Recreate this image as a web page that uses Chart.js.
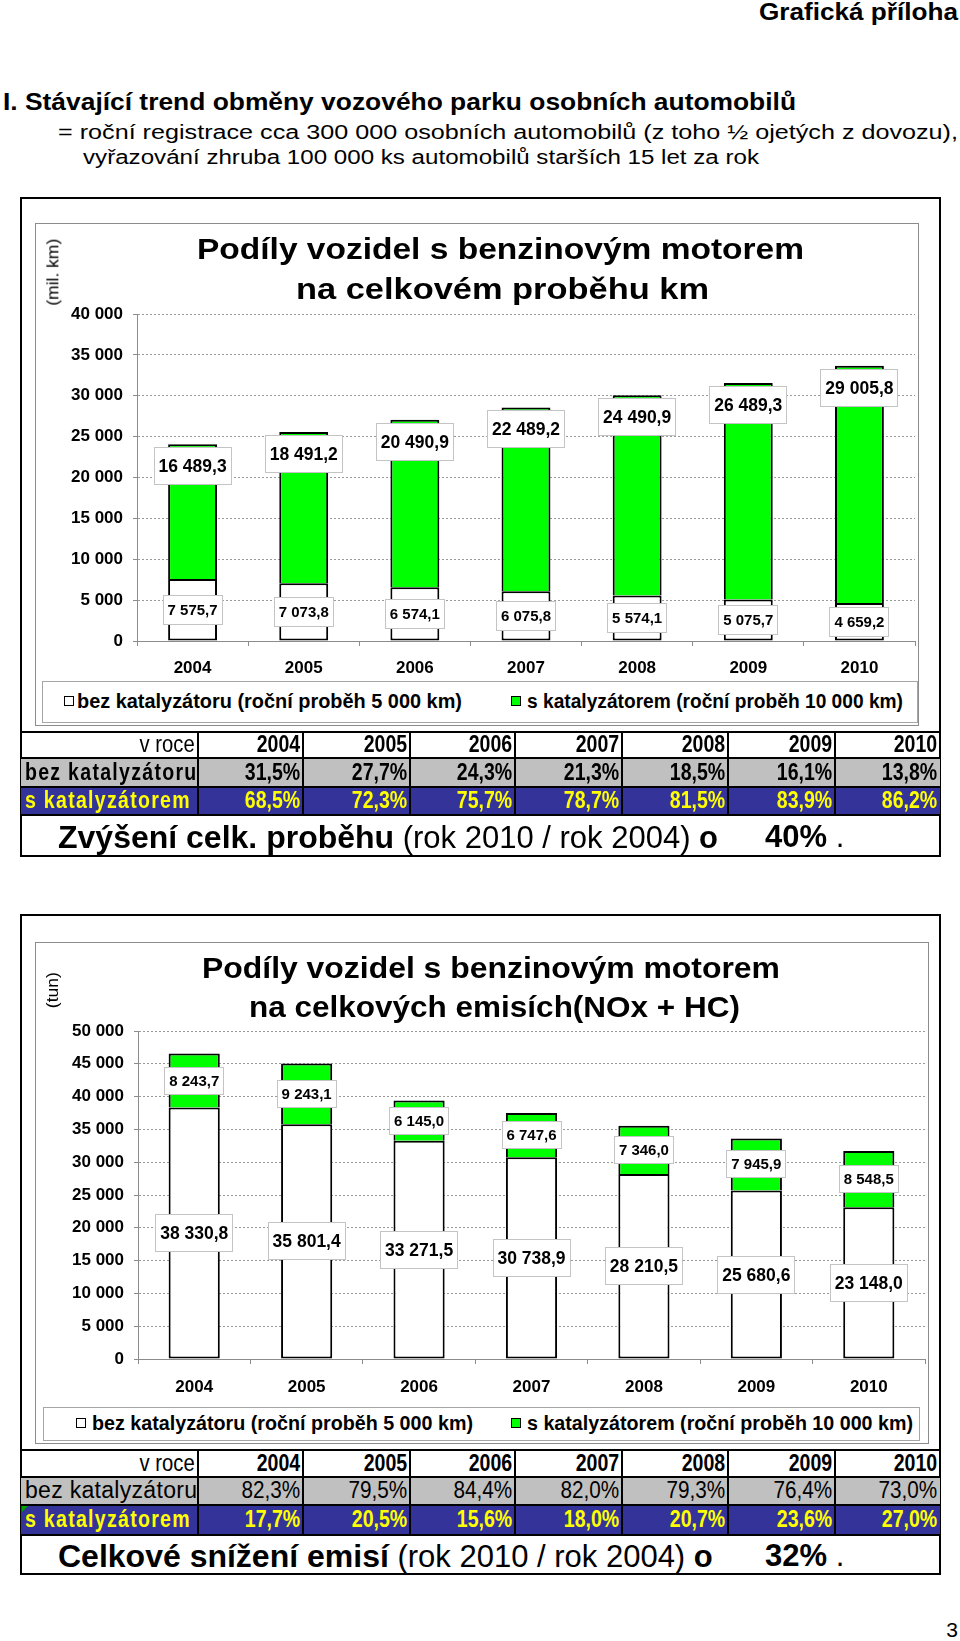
<!DOCTYPE html>
<html>
<head>
<meta charset="utf-8">
<script src="https://cdn.jsdelivr.net/npm/chart.js@4.4.1/dist/chart.umd.min.js"></script>
<style>
  body { margin: 0; width: 960px; height: 1641px; position: relative; overflow: hidden; background: #fff;
         font-family: "Liberation Sans", Arial, sans-serif; color: #000; }
  .frame { position: absolute; border: 2px solid #000; box-sizing: border-box; }
  .cbox { position: absolute; border: 1px solid #8c8c8c; box-sizing: border-box; }
  .lbox { position: absolute; border: 1px solid #a6a6a6; box-sizing: border-box; }
  .sq { position: absolute; width: 10px; height: 10px; border: 1px solid #000; box-sizing: border-box; }
  canvas { position: absolute; }
  .cell { position: absolute; display: flex; align-items: center; justify-content: flex-end; box-sizing: border-box;
          padding: 0 2px 0 3px; overflow: hidden; white-space: nowrap; line-height: 1.2; }
  .cell span { display: inline-block; }
  .ln { position: absolute; background: #000; }
</style>
</head>
<body>

<div class="frame" style="left:20px;top:197px;width:921px;height:660px"></div>
<div class="cbox" style="left:35px;top:223px;width:884px;height:503px"></div>
<div class="lbox" style="left:42px;top:681px;width:876px;height:42px"></div>
<canvas id="km" width="883" height="455" style="left:35px;top:223px"></canvas>

<div class="frame" style="left:20px;top:914px;width:921px;height:661px"></div>
<div class="cbox" style="left:35px;top:942px;width:894px;height:502px"></div>
<div class="lbox" style="left:43px;top:1407px;width:877px;height:34px"></div>
<canvas id="em" width="893" height="465" style="left:35px;top:942px"></canvas>

<script>
// ---- data ----
const years = ['2004', '2005', '2006', '2007', '2008', '2009', '2010'];
const seriesNames = ['bez katalyzátoru (roční proběh 5 000 km)', 's katalyzátorem (roční proběh 10 000 km)'];

// celkový proběh (mil. km)
const kmBez = [7575.7, 7073.8, 6574.1, 6075.8, 5574.1, 5075.7, 4659.2];
const kmKat = [16489.3, 18491.2, 20490.9, 22489.2, 24490.9, 26489.3, 29005.8];
const kmShareBez = ['31,5%', '27,7%', '24,3%', '21,3%', '18,5%', '16,1%', '13,8%'];
const kmShareKat = ['68,5%', '72,3%', '75,7%', '78,7%', '81,5%', '83,9%', '86,2%'];

// emise NOx + HC (tun)
const emBez = [38330.8, 35801.4, 33271.5, 30738.9, 28210.5, 25680.6, 23148.0];
const emKat = [8243.7, 9243.1, 6145.0, 6747.6, 7346.0, 7945.9, 8548.5];
const emShareBez = ['82,3%', '79,5%', '84,4%', '82,0%', '79,3%', '76,4%', '73,0%'];
const emShareKat = ['17,7%', '20,5%', '15,6%', '18,0%', '20,7%', '23,6%', '27,0%'];

const kmMax = 40000;
const emMax = 50000;
const tickStep = 5000;

const fmtInt = v => String(v).replace(/\B(?=(\d{3})+(?!\d))/g, ' ');
const fmtDec = v => { const p = v.toFixed(1).split('.'); return fmtInt(p[0]) + ',' + p[1]; };

Chart.defaults.font.family = '"Liberation Sans", Arial, sans-serif';

// white boxes with the values, like the Excel data labels
const boxLabels = {
  id: 'boxLabels',
  afterDatasetsDraw(chart) {
    const ctx = chart.ctx;
    chart.data.datasets.forEach((ds, i) => {
      const lab = ds.boxLabel;
      chart.getDatasetMeta(i).data.forEach((bar, j) => {
        const cy = lab.anchor === 'end' ? bar.y + 3 + lab.h / 2 : (bar.y + bar.base) / 2;
        const x = Math.round(bar.x - lab.w / 2), y = Math.round(cy - lab.h / 2);
        ctx.save();
        ctx.fillStyle = '#fff';
        ctx.fillRect(x, y, lab.w, lab.h);
        ctx.strokeStyle = '#c4c4c4';
        ctx.lineWidth = 1;
        ctx.strokeRect(x + 0.5, y + 0.5, lab.w - 1, lab.h - 1);
        ctx.font = 'bold ' + lab.size + 'px "Liberation Sans", Arial, sans-serif';
        ctx.fillStyle = '#000';
        ctx.textAlign = 'center';
        ctx.textBaseline = 'middle';
        ctx.fillText(fmtDec(ds.data[j]), bar.x, y + lab.h / 2 + 1);
        ctx.restore();
      });
    });
  }
};

function stackChart(id, bez, kat, max, g) {
  return new Chart(document.getElementById(id), {
    type: 'bar',
    data: {
      labels: years,
      datasets: [
        { label: seriesNames[0], data: bez, backgroundColor: '#ffffff', borderColor: '#000', borderWidth: 2,
          borderSkipped: false, barPercentage: g.bar, categoryPercentage: 1, boxLabel: g.bezLabel },
        { label: seriesNames[1], data: kat, backgroundColor: '#00ff00', borderColor: '#000', borderWidth: 2,
          borderSkipped: 'bottom', barPercentage: g.bar, categoryPercentage: 1, boxLabel: g.katLabel }
      ]
    },
    options: {
      responsive: false,
      animation: false,
      devicePixelRatio: 1,
      layout: { padding: { top: g.top, right: 3, left: 0, bottom: 0 } },
      plugins: { legend: { display: false }, tooltip: { enabled: false }, title: { display: false } },
      scales: {
        x: {
          stacked: true,
          grid: { drawOnChartArea: false, tickLength: 5, color: '#8c8c8c' },
          border: { color: '#8c8c8c' },
          ticks: { color: '#000', font: { size: 17, weight: 'bold' }, padding: g.xPad },
          afterFit: s => { s.height = g.xH; }
        },
        y: {
          stacked: true,
          min: 0,
          max: max,
          ticks: { stepSize: tickStep, color: '#000', font: { size: 17, weight: 'bold' }, padding: 10,
                   callback: v => fmtInt(v) },
          grid: { color: '#9a9a9a', tickColor: '#8c8c8c', tickLength: 4 },
          border: { color: '#8c8c8c', dash: [2, 2] },
          afterFit: s => { s.width = g.yW; }
        }
      }
    },
    plugins: [boxLabels]
  });
}

stackChart('km', kmBez, kmKat, kmMax, {
  top: 91, yW: 102, xH: 37, xPad: 12, bar: 0.44,
  bezLabel: { anchor: 'center', w: 60, h: 30, size: 15 },
  katLabel: { anchor: 'end', w: 78, h: 38, size: 17.5 }
});
stackChart('em', emBez, emKat, emMax, {
  top: 89, yW: 103, xH: 48, xPad: 13, bar: 0.455,
  bezLabel: { anchor: 'center', w: 78, h: 38, size: 17.5 },
  katLabel: { anchor: 'center', w: 60, h: 28, size: 15 }
});

// ---- text placed and stretched to the widths ----
function put(text, o) {
  const el = document.createElement('div');
  el.textContent = text;
  el.style.cssText = 'position:absolute;white-space:nowrap;line-height:1.2;left:0;top:0;transform-origin:0 0;' +
    'font-weight:' + (o.b ? 'bold' : 'normal') + ';font-size:' + o.s + 'px';
  document.body.appendChild(el);
  const nat = el.getBoundingClientRect().width;
  const k = o.w ? o.w / nat : 1;
  const w = nat * k;
  let left = o.x;
  if (o.a === 'r') left = o.x - w;
  if (o.a === 'c') left = o.x - w / 2;
  el.style.left = left + 'px';
  el.style.top = (o.cy - 0.59 * o.s) + 'px';
  el.style.transform = 'scaleX(' + k + ')';
  return el;
}
function putV(text, s, cx, cy, len) {
  const el = document.createElement('div');
  el.textContent = text;
  el.style.cssText = 'position:absolute;white-space:nowrap;line-height:1.2;left:0;top:0;font-size:' + s + 'px';
  document.body.appendChild(el);
  const nat = el.getBoundingClientRect().width;
  el.style.left = (cx - 0.09 * s - nat / 2) + 'px';
  el.style.top = (cy - 0.6 * s) + 'px';
  el.style.transformOrigin = '50% 50%';
  el.style.transform = 'rotate(-90deg) scaleX(' + (len / nat) + ')';
}

put('Grafická příloha', { b: 1, s: 23, x: 958, a: 'r', w: 199, cy: 13 });
put('I. Stávající trend obměny vozového parku osobních automobilů', { b: 1, s: 23, x: 3, w: 793, cy: 103 });
put('= roční registrace cca 300 000 osobních automobilů (z toho ½ ojetých z dovozu),', { s: 20, x: 58, w: 900, cy: 132 });
put('vyřazování zhruba 100 000 ks automobilů starších 15 let za rok', { s: 20, x: 83, w: 676, cy: 157 });

put('Podíly vozidel s benzinovým motorem', { b: 1, s: 30, x: 500, a: 'c', w: 607, cy: 249 });
put('na celkovém proběhu km', { b: 1, s: 30, x: 502, a: 'c', w: 413, cy: 289 });
putV('(mil. km)', 17, 55, 272, 67);

put('Podíly vozidel s benzinovým motorem', { b: 1, s: 30, x: 491, a: 'c', w: 578, cy: 968 });
put('na celkových emisích(NOx + HC)', { b: 1, s: 30, x: 494, a: 'c', w: 491, cy: 1007 });
putV('(tun)', 17, 55, 990, 36);

// legends
function legend(cy, sq1, t1, w1, sq2, t2, w2) {
  const a = document.createElement('div');
  a.className = 'sq'; a.style.cssText = 'left:' + sq1 + 'px;top:' + (cy - 5) + 'px;background:#fff';
  const b = document.createElement('div');
  b.className = 'sq'; b.style.cssText = 'left:' + sq2 + 'px;top:' + (cy - 5) + 'px;background:#00ff00';
  document.body.appendChild(a); document.body.appendChild(b);
  put(seriesNames[0], { b: 1, s: 20, x: t1, w: w1, cy: cy });
  put(seriesNames[1], { b: 1, s: 20, x: t2, w: w2, cy: cy });
}
legend(701, 64, 77, 385, 511, 527, 376);
legend(1423, 76, 92, 381, 511, 527, 386);

// ---- tables ----
const cols = [21, 198, 303, 410, 515, 622, 728, 835, 940];

// narrow-looking cell text: a larger font squeezed horizontally
function cell(i, y, h, text, css, k, left) {
  const el = document.createElement('div');
  el.className = 'cell';
  el.style.cssText = 'left:' + (cols[i] + 1) + 'px;width:' + (cols[i + 1] - cols[i] - 2) + 'px;top:' + y + 'px;height:' + h + 'px;' +
    (left ? 'justify-content:flex-start;' : '') + (css || '');
  const sp = document.createElement('span');
  sp.textContent = text;
  sp.style.transformOrigin = left ? '0 50%' : '100% 50%';
  sp.style.transform = 'scaleX(' + k + ')';
  el.appendChild(sp);
  document.body.appendChild(el);
}
function line(x, y, w, h) {
  const el = document.createElement('div');
  el.className = 'ln';
  el.style.cssText = 'left:' + x + 'px;top:' + y + 'px;width:' + w + 'px;height:' + h + 'px';
  document.body.appendChild(el);
}
function band(y, h, color) {
  const el = document.createElement('div');
  el.style.cssText = 'position:absolute;left:21px;width:919px;top:' + y + 'px;height:' + h + 'px;background:' + color;
  document.body.appendChild(el);
}

function shareTable(r, bezShare, katShare, t) {
  band(r[1], r[2] - r[1], '#c0c0c0');
  band(r[2], r[3] - r[2], '#333399');
  cell(0, r[0], r[1] - r[0], 'v roce', 'font-size:23px', 0.88);
  cell(0, r[1], r[2] - r[1], 'bez katalyzátoru', t.bezFirst, t.bezFirstK, true);
  cell(0, r[2], r[3] - r[2], t.katText, 'color:#ffff00;font-weight:bold;font-size:23px;letter-spacing:1.5px', 0.85, true);
  years.forEach((yr, i) => {
    cell(i + 1, r[0], r[1] - r[0], yr, 'font-weight:bold;font-size:23px', 0.85);
    cell(i + 1, r[1], r[2] - r[1], bezShare[i], t.bezVal, t.bezValK);
    cell(i + 1, r[2], r[3] - r[2], katShare[i], 'color:#ffff00;font-weight:bold;font-size:23px', 0.85);
  });
  for (let k = 0; k < 4; k++) line(21, r[k] - 1, 919, 2);
  for (let k = 1; k < 8; k++) line(cols[k] - 1, r[0], 2, r[3] - r[0]);

  // summary line
  const cy = (r[3] + r[4]) / 2 + 1;
  const row = document.createElement('div');
  row.style.cssText = 'position:absolute;left:58px;white-space:nowrap;line-height:1.2;top:' + (cy - 0.59 * 31) + 'px';
  row.innerHTML = '<b style="font-size:32px">' + t.lead + '</b><span style="font-size:31px"> (rok 2010 / rok 2004)</span>' +
                  '<b style="font-size:31px"> o</b>';
  document.body.appendChild(row);
  const pct = document.createElement('div');
  pct.style.cssText = 'position:absolute;left:765px;white-space:nowrap;line-height:1.2;font-size:31px;top:' + (cy - 0.59 * 31) + 'px';
  pct.innerHTML = '<b>' + t.pct + '</b> .';
  document.body.appendChild(pct);
}

shareTable([732, 758, 787, 815, 855], kmShareBez, kmShareKat, {
  bezFirst: 'font-weight:bold;font-size:23px;letter-spacing:1.5px', bezFirstK: 0.85,
  bezVal: 'font-weight:bold;font-size:23px', bezValK: 0.85,
  katText: 's katalyzátorem (roční proběh 10 000 km)',
  lead: 'Zvýšení celk. proběhu', pct: '40%'
});
shareTable([1450, 1477, 1505, 1535, 1573], emShareBez, emShareKat, {
  bezFirst: 'font-size:23px;letter-spacing:0.3px', bezFirstK: 1.0,
  bezVal: 'font-size:23px', bezValK: 0.9,
  katText: 's katalyzátorem',
  lead: 'Celkové snížení emisí', pct: '32%'
});
// small green corner mark of the spreadsheet cell
const tri = document.createElement('div');
tri.style.cssText = 'position:absolute;left:22px;top:1506px;width:0;height:0;border-top:6px solid #00a000;border-right:6px solid transparent';
document.body.appendChild(tri);

put('3', { s: 21, x: 958, a: 'r', cy: 1629 });
</script>
</body>
</html>
